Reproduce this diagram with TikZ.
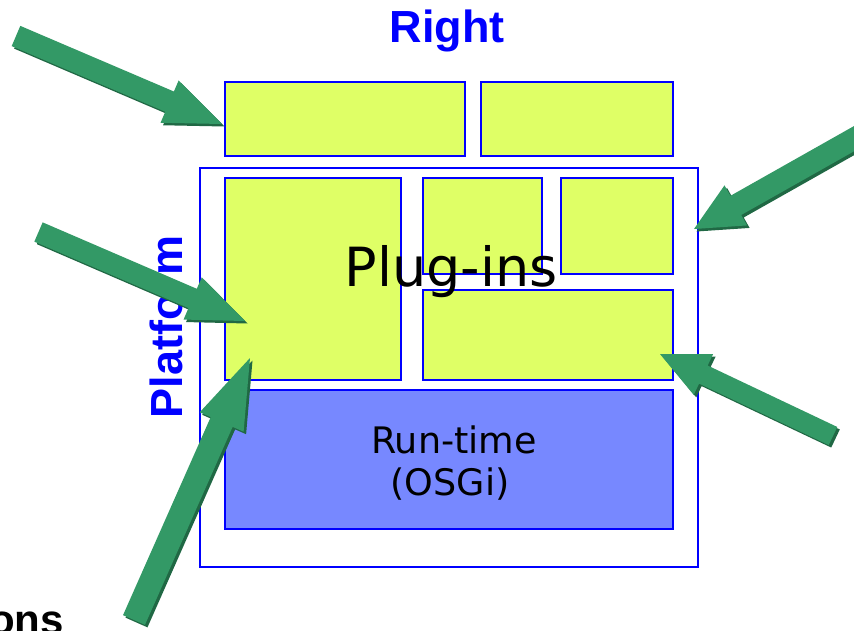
\documentclass[tikz,border=0pt]{standalone}
\usepackage{fontspec}
\setmainfont{DejaVu Sans}
\newfontfamily\headfont{Liberation Sans}
\usetikzlibrary{calc}

\definecolor{plugyellow}{RGB}{223,255,102}
\definecolor{runblue}{RGB}{119,136,255}
\definecolor{edgeblue}{RGB}{0,0,255}
\definecolor{arrowgreen}{RGB}{51,153,102}
\definecolor{arrowdark}{RGB}{32,104,68}

\tikzset{
  plugbox/.style={draw=edgeblue, line width=1.4pt, fill=plugyellow,
    inner sep=0pt, outer sep=0pt, anchor=north west},
  runbox/.style={plugbox, fill=runblue},
  framebox/.style={draw=edgeblue, line width=1.4pt, inner sep=0pt,
    outer sep=0pt, anchor=north west},
  bluelabel/.style={text=edgeblue, font=\headfont\bfseries\fontsize{45}{50}\selectfont},
}

% outline of a block arrow: #1 tail, #2 tip, #3 shaft half width,
% #4 head half width (neck coordinate must be set)
\newcommand\arrowoutline[4]{%
  ($(#1)!#3pt!90:(#2)$) -- ($(neck)!#3pt!90:(#2)$) --
  ($(neck)!#4pt!90:(#2)$) -- (#2) -- ($(neck)!#4pt!-90:(#2)$) --
  ($(neck)!#3pt!-90:(#2)$) -- ($(#1)!#3pt!-90:(#2)$) -- cycle}

% green block arrow with a darker extruded edge
% #1 tail, #2 tip, #3 shaft half width, #4 head half width, #5 head length
\newcommand\blockarrow[5]{%
  \coordinate (neck) at ($(#2)!#5pt!(#1)$);
  \fill[arrowdark, transform canvas={shift={(2.5pt,-2.5pt)}}]
    \arrowoutline{#1}{#2}{#3}{#4};
  \fill[arrowgreen] \arrowoutline{#1}{#2}{#3}{#4};
}

\begin{document}
\begin{tikzpicture}[x=1pt, y=-1pt]
\useasboundingbox (0,0) rectangle (854,630);

% top row of plug-ins
\node[plugbox, minimum width=240pt, minimum height=74pt] (top1) at (225,82) {};
\node[plugbox, minimum width=192pt, minimum height=74pt] (top2) at (481,82) {};

% platform frame
\node[framebox, minimum width=498pt, minimum height=399pt] (platform) at (200,168) {};

% plug-ins inside the platform
\node[plugbox, minimum width=176pt, minimum height=202pt] (pbig) at (225,178) {};
\node[plugbox, minimum width=119pt, minimum height=96pt] (pmid) at (423,178) {};
\node[plugbox, minimum width=112pt, minimum height=96pt] (pright) at (561,178) {};
\node[plugbox, minimum width=250pt, minimum height=90pt] (pwide) at (423,290) {};

% run-time layer
\node[runbox, minimum width=448pt, minimum height=139pt] (runtime) at (225,390) {};

% labels
\node[anchor=base, font=\fontsize{54}{60}\selectfont, inner sep=0pt]
  (pluglabel) at (451,286) {Plug-ins};
\node[anchor=base, font=\fontsize{36.5}{42}\selectfont, inner sep=0pt]
  (runlabel1) at (454,453) {Run-time};
\node[anchor=base, font=\fontsize{36.5}{42}\selectfont, inner sep=0pt]
  (runlabel2) at (450,495) {(OSGi)};
\node[bluelabel, anchor=base, inner sep=0pt] (rightlabel) at (447,42) {Right};
\node[bluelabel, anchor=base, rotate=90, inner sep=0pt] (platlabel) at (182,327) {Platform};
\node[anchor=base east, font=\headfont\bfseries\fontsize{42}{48}\selectfont, inner sep=0pt]
  (extlabel) at (64,634) {ons};

% arrow end points
\coordinate (t1) at (16,36);    \coordinate (h1) at (222,124);
\coordinate (t2) at (880,124);  \coordinate (h2) at (694,229);
\coordinate (t3) at (38.5,232); \coordinate (h3) at (245,321);
\coordinate (t4) at (134,620);  \coordinate (h4) at (250,358);
\coordinate (t5) at (833,436);  \coordinate (h5) at (660,354);

\blockarrow{t1}{h1}{11}{23}{57}
\blockarrow{t2}{h2}{11}{23}{48}
\blockarrow{t3}{h3}{10.5}{23}{57}
\blockarrow{t4}{h4}{12}{24}{70}
\blockarrow{t5}{h5}{10}{22.5}{48}
\end{tikzpicture}
\end{document}
